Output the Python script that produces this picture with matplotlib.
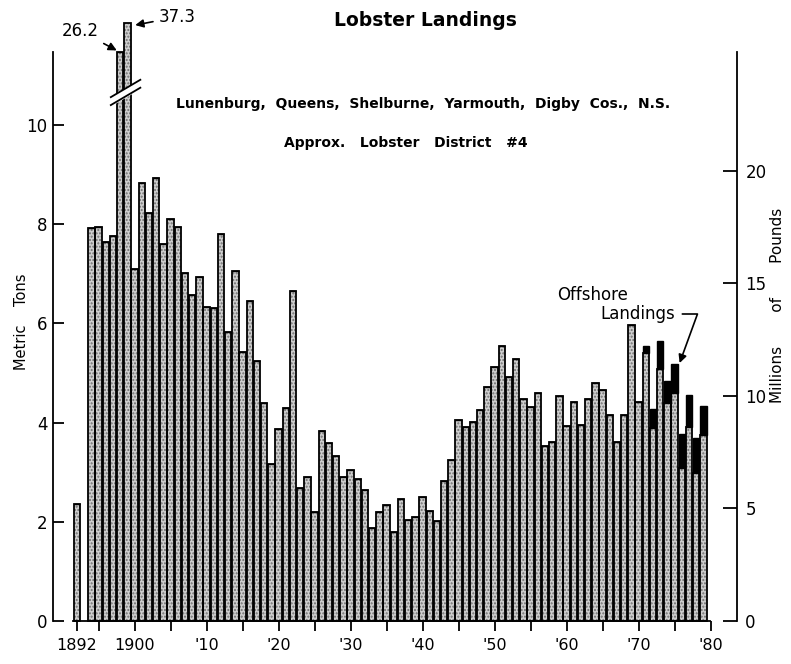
import numpy as np
import matplotlib
matplotlib.use("Agg")
import matplotlib.pyplot as plt

# landings, thousands of metric tons; no bar for 1893
years = [1892] + list(range(1894, 1980))
landings = [2.35,
            7.93, 7.95, 7.65, 7.77, 26.2, 37.3, 7.10, 8.82, 8.22, 8.92,
            7.60, 8.10, 7.95, 7.01, 6.58, 6.93, 6.32, 6.31, 7.80, 5.82,
            7.05, 5.42, 6.45, 5.25, 4.39, 3.17, 3.87, 4.29, 6.65, 2.69,
            2.91, 2.19, 3.82, 3.58, 3.32, 2.91, 3.05, 2.86, 2.65,
            1.87, 2.19, 2.34, 1.79, 2.46, 2.03, 2.10, 2.49, 2.21, 2.01,
            2.82, 3.24, 4.06, 3.91, 4.01, 4.25, 4.71, 5.13, 5.55, 4.91,
            5.28, 4.47, 4.32, 4.60, 3.53, 3.60, 4.53, 3.93, 4.42, 3.96,
            4.48, 4.79, 4.66, 4.16, 3.60, 4.16, 5.97, 4.41, 5.55, 4.28,
            5.64, 4.83, 5.18, 3.76, 4.55, 3.68, 4.34]
# offshore part (black caps) of the last years
off_years = list(range(1971, 1980))
offshore = [0.15, 0.38, 0.56, 0.44, 0.58, 0.67, 0.64, 0.69, 0.59]

tick_years = [1892, 1900, 1910, 1920, 1930, 1940, 1950, 1960, 1970, 1980]
tick_labels = ["1892", "1900", "'10", "'20", "'30", "'40", "'50", "'60", "'70", "'80"]
minor_years = list(range(1895, 1980, 10))

LB_PER_T = 2.20462
BREAK = 10.2


def shown(v):
    # squeeze the two huge years above the axis break
    v = np.asarray(v, float)
    return np.where(v > BREAK, 10.08 + 0.053 * v, v)


plt.rcParams['font.family'] = ['DejaVu Sans']

fig = plt.figure(figsize=(7.91, 6.64), dpi=100)
ax = fig.add_axes([53 / 791, 43 / 664, (737 - 53) / 791, (621 - 52) / 664])

yrs = np.array(years)
tot = np.array(landings)
off = np.zeros_like(tot)
for y, o in zip(off_years, offshore):
    off[yrs == y] = o
inshore = shown(tot - off)

ax.bar(yrs, inshore, width=0.9, color='#cdcdcd', hatch='.....',
       edgecolor='#6e6e6e', linewidth=0, clip_on=False, zorder=2)
ax.bar(yrs, inshore, width=0.9, fill=False, edgecolor='black',
       linewidth=1.3, clip_on=False, zorder=3)
ax.bar(yrs, off, bottom=inshore, width=0.9, color='black',
       edgecolor='black', linewidth=1.0, zorder=3)

# break marks on the two tall bars
big = yrs[tot > BREAK]
bx = np.array([big.min() - 1.3, big.max() + 1.8])
lo = np.array([10.40, 10.75])
ax.fill_between(bx, lo, lo + 0.16, color='white', zorder=4, clip_on=False)
ax.plot(bx, lo, color='black', lw=1.3, zorder=5, clip_on=False)
ax.plot(bx, lo + 0.16, color='black', lw=1.3, zorder=5, clip_on=False)

ax.set_xlim(1888.67, 1983.67)
ax.set_ylim(0, 11.47)

for side in ['top', 'right']:
    ax.spines[side].set_visible(False)
ax.spines['bottom'].set_bounds(1891.45, 1979.9)
ax.spines['left'].set_linewidth(1.3)
ax.spines['bottom'].set_linewidth(1.3)

ax.set_xticks(tick_years)
ax.set_xticklabels(tick_labels, fontsize=11.5)
ax.set_xticks(minor_years, minor=True)
ax.tick_params(axis='x', which='both', direction='out', length=7, width=1.3, pad=5)
ax.set_yticks([0, 2, 4, 6, 8, 10])
ax.tick_params(axis='y', direction='in', length=8, width=1.3, labelsize=12, pad=4)

ax2 = ax.twinx()
ax2.set_ylim(0, 11.47 * LB_PER_T)
ax2.set_yticks([0, 5, 10, 15, 20])
ax2.tick_params(axis='y', direction='in', length=10, width=1.3, labelsize=12, pad=6)
for side in ['top', 'left', 'bottom']:
    ax2.spines[side].set_visible(False)
ax2.spines['right'].set_linewidth(1.3)

fig.text(22 / 791, 1 - 322 / 664, 'Metric    Tons', rotation=90, ha='center',
         va='center', fontsize=10.5)
fig.text(778 / 791, 1 - 305 / 664, 'Millions       of       Pounds', rotation=90,
         ha='center', va='center', fontsize=11)

# labels for the off-scale bars
ax.annotate('26.2', xy=(1898 - 0.3, shown(26.2) + 0.02), xytext=(80, 633),
            textcoords='figure pixels', ha='center', va='center', fontsize=12,
            arrowprops=dict(arrowstyle='-|>', color='black', lw=1.2,
                            shrinkA=2, shrinkB=1), annotation_clip=False)
ax.annotate('37.3', xy=(1899 + 0.9, shown(37.3) - 0.05), xytext=(177, 647),
            textcoords='figure pixels', ha='center', va='center', fontsize=12,
            arrowprops=dict(arrowstyle='-|>', color='black', lw=1.2,
                            shrinkA=2, shrinkB=1), annotation_clip=False)

fig.text(425 / 791, 1 - 21 / 664, 'Lobster Landings', ha='center', va='center',
         fontsize=13.5, fontweight='bold')
fig.text(423 / 791, 1 - 104 / 664,
         'Lunenburg,  Queens,  Shelburne,  Yarmouth,  Digby  Cos.,  N.S.',
         ha='center', va='center', fontsize=10, fontweight='bold')
fig.text(406 / 791, 1 - 143 / 664, 'Approx.   Lobster   District   #4',
         ha='center', va='center', fontsize=10, fontweight='bold')

fig.text(593 / 791, 1 - 295 / 664, 'Offshore', ha='center', va='center', fontsize=12)
ax.annotate('Landings', xy=(1975.7, 5.2), xytext=(638, 664 - 314),
            textcoords='figure pixels', ha='center', va='center', fontsize=12,
            arrowprops=dict(arrowstyle='-|>', color='black', lw=1.2,
                            connectionstyle='angle,angleA=0,angleB=70,rad=0',
                            shrinkA=3, shrinkB=0))

fig.savefig('out.png', dpi=100)
